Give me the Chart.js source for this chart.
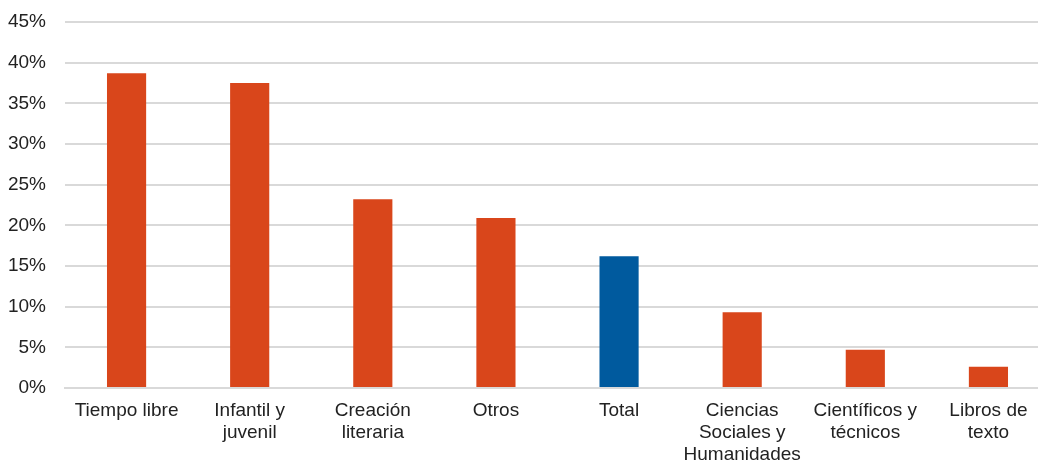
<!DOCTYPE html>
<html>
<head>
<meta charset="utf-8">
<script src="https://cdn.jsdelivr.net/npm/chart.js@4"></script>
<style>
  html, body { margin: 0; padding: 0; background: #fff; overflow: hidden; }
  #wrap { width: 1038px; height: 463px; overflow: hidden; }
</style>
</head>
<body>
<div id="wrap"><canvas id="myChart" width="1050" height="463"></canvas></div>
<script>
const categorias = [
  'Tiempo libre',
  ['Infantil y', 'juvenil'],
  ['Creación', 'literaria'],
  'Otros',
  'Total',
  ['Ciencias', 'Sociales y', 'Humanidades'],
  ['Científicos y', 'técnicos'],
  ['Libros de', 'texto']
]
const valores = [38.7, 37.5, 23.2, 20.9, 16.2, 9.3, 4.7, 2.6]
const colores = ['#D9461B', '#D9461B', '#D9461B', '#D9461B', '#005A9E', '#D9461B', '#D9461B', '#D9461B']
const ticksY = [0, 5, 10, 15, 20, 25, 30, 35, 40, 45]

const fuente = { family: '"Liberation Sans", Arial, sans-serif', size: 19, lineHeight: 1.16 }

const ctx = document.getElementById('myChart')

new Chart(ctx, {
  type: 'bar',
  data: {
    labels: categorias,
    datasets: [{
      data: valores,
      backgroundColor: colores,
      borderWidth: 0,
      barPercentage: 0.318,
      categoryPercentage: 1
    }]
  },
  options: {
    responsive: false,
    animation: false,
    layout: { padding: { top: 22, right: 0, left: 0, bottom: 0 } },
    plugins: { legend: { display: false }, tooltip: { enabled: false } },
    scales: {
      x: {
        grid: { display: false, drawTicks: false },
        border: { color: '#d9d9d9', width: 2 },
        ticks: { color: '#222', font: fuente, padding: 12, maxRotation: 0, autoSkip: false },
        afterFit: (s) => { s.height = 75 }
      },
      y: {
        min: 0,
        max: 45,
        afterBuildTicks: (s) => { s.ticks = ticksY.map(v => ({ value: v })) },
        grid: { color: '#d9d9d9', lineWidth: 2, drawTicks: false },
        border: { display: false },
        ticks: { color: '#222', font: fuente, padding: 19, callback: v => v + '%' },
        afterFit: (s) => { s.width = 65; s.paddingTop = 0; s.paddingBottom = 0 }
      }
    }
  }
})
</script>
</body>
</html>
